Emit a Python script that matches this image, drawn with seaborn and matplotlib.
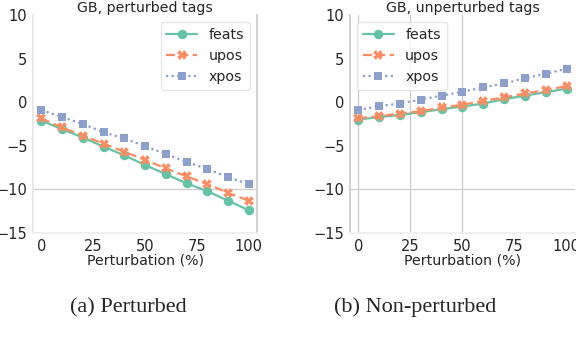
import numpy as np
import pandas as pd
import matplotlib
matplotlib.use("Agg")
import matplotlib.pyplot as plt
import seaborn as sns

# perturbation levels (%)
perturbation = [0, 10, 20, 30, 40, 50, 60, 70, 80, 90, 100]

# GB, perturbed tags
pert_feats = [-2.1, -3.1, -4.05, -5.1, -6.1, -7.2, -8.25, -9.3, -10.2, -11.3, -12.4]
pert_upos = [-1.85, -2.9, -3.85, -4.75, -5.7, -6.6, -7.6, -8.5, -9.4, -10.4, -11.3]
pert_xpos = [-0.9, -1.7, -2.5, -3.45, -4.15, -5.05, -5.95, -6.85, -7.65, -8.6, -9.4]

# GB, unperturbed tags
unpert_feats = [-2.0, -1.7, -1.45, -1.15, -0.8, -0.5, -0.15, 0.35, 0.75, 1.15, 1.55]
unpert_upos = [-1.85, -1.6, -1.3, -1.05, -0.6, -0.3, 0.15, 0.55, 1.0, 1.4, 1.85]
unpert_xpos = [-0.9, -0.45, -0.15, 0.3, 0.75, 1.2, 1.7, 2.15, 2.75, 3.25, 3.85]

tags = ["feats", "upos", "xpos"]
titles = ["GB, perturbed tags", "GB, unperturbed tags"]
captions = ["(a) Perturbed", "(b) Non-perturbed"]


def make_df(feats, upos, xpos):
    rows = []
    for tag, vals in zip(tags, [feats, upos, xpos]):
        for p, v in zip(perturbation, vals):
            rows.append({"Perturbation (%)": p, "value": v, "tag": tag})
    return pd.DataFrame(rows)


dfs = [make_df(pert_feats, pert_upos, pert_xpos),
       make_df(unpert_feats, unpert_upos, unpert_xpos)]

sns.set_theme(style="whitegrid")
plt.rcParams["font.family"] = ["DejaVu Sans"]

fig = plt.figure(figsize=(5.76, 3.48), dpi=100)
ax1 = fig.add_axes([0.0573, 0.3305, 0.389, 0.6264])
ax2 = fig.add_axes([0.6076, 0.3305, 0.3906, 0.6264])

palette = sns.color_palette("Set2", 3)
markers = {"feats": "o", "upos": "X", "xpos": "s"}
dashes = {"feats": "", "upos": (4, 2), "xpos": (1, 1.5)}

for i, (ax, df) in enumerate(zip([ax1, ax2], dfs)):
    sns.lineplot(data=df, x="Perturbation (%)", y="value", hue="tag", style="tag",
                 markers=markers, dashes=dashes, palette=palette, markersize=6.8,
                 markeredgewidth=0, linewidth=1.6, ax=ax)
    for ln in ax.lines:
        if ln.get_marker() == "s":
            ln.set_markersize(5.2)
    ax.set_ylim(-15, 10)
    ax.set_xlim(-4, 104)
    ax.set_yticks([-15, -10, -5, 0, 5, 10])
    ax.set_xticks([0, 25, 50, 75, 100])
    ax.set_ylabel("")
    ax.set_xlabel("Perturbation (%)", labelpad=0, fontsize=10.2)
    ax.set_title(titles[i], fontsize=10.2, pad=2)
    ax.tick_params(labelsize=10.5, length=0, pad=4)
    ax.grid(False)
    ax.axhline(-10, color="#cccccc", lw=0.9, zorder=0)
    ax.spines["top"].set_visible(False)
    ax.spines["left"].set_color("#e6e6e6")
    ax.spines["bottom"].set_color("#eeeeee")
    ax.spines["right"].set_color("#cccccc")
    leg = ax.legend(title=None, loc="upper right" if i == 0 else "upper left",
                    fontsize=10.2, frameon=True, handlelength=2.2,
                    labelspacing=0.5, borderaxespad=0.5)
    leg.get_frame().set_edgecolor("#e0e0e0")
    for h in leg.get_lines():
        if h.get_marker() == "s":
            h.set_markersize(5.2)
    fig.text(0.222 if i == 0 else 0.72, 0.116, captions[i],
             family="Liberation Serif", fontsize=16, ha="center", va="center")

for x in [0, 25, 50]:
    ax2.axvline(x, color="#cccccc", lw=0.9, zorder=0)
ax2.spines["left"].set_color("#cccccc")
ax2.spines["right"].set_visible(False)

fig.savefig("out.png", dpi=100)
